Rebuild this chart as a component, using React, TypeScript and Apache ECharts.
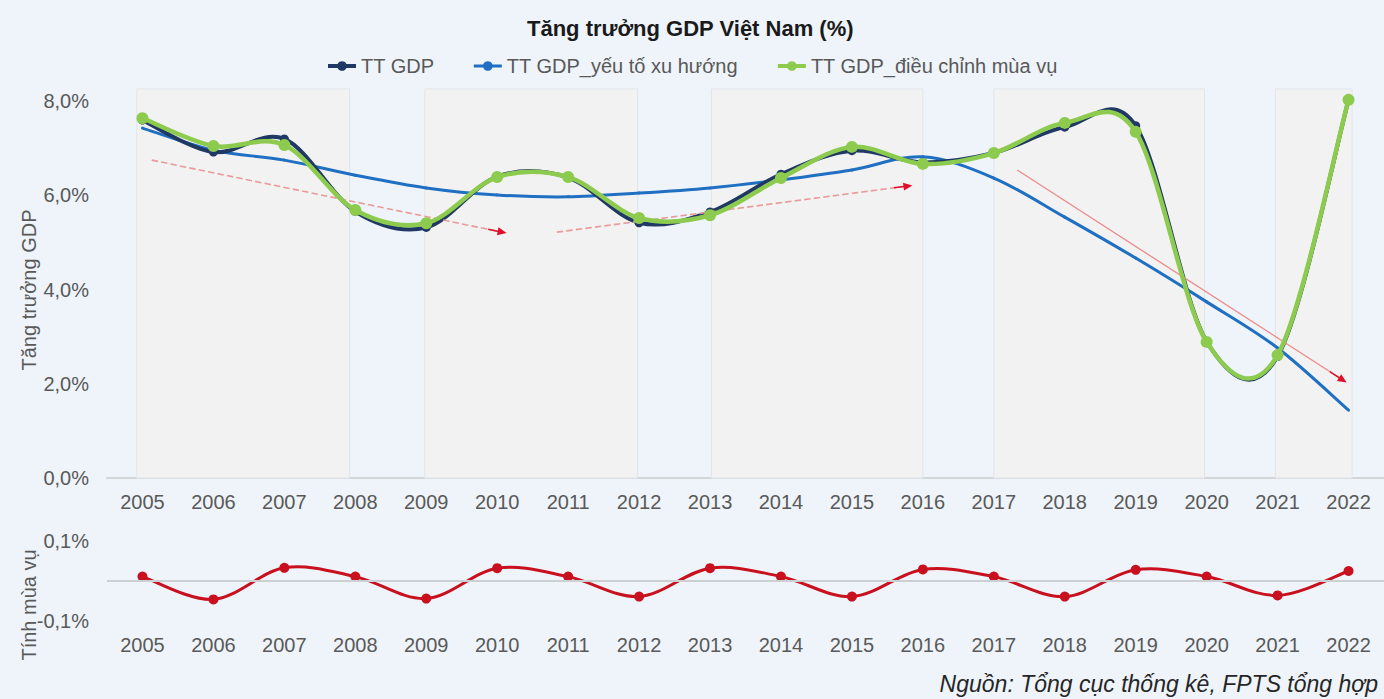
import React, { useEffect, useRef } from "react";
import * as echarts from "echarts";

const years = ["2005","2006","2007","2008","2009","2010","2011","2012","2013","2014","2015","2016","2017","2018","2019","2020","2021","2022"];
const ttGdp = [7.6, 6.92, 7.2, 5.66, 5.32, 6.4, 6.38, 5.42, 5.65, 6.45, 6.95, 6.7, 6.9, 7.45, 7.48, 2.9, 2.58, 8.02];
const ttGdpTrend = [7.43, 6.96, 6.75, 6.43, 6.16, 6.01, 5.97, 6.05, 6.16, 6.33, 6.54, 6.82, 6.37, 5.54, 4.67, 3.74, 2.76, 1.44];
const ttGdpSeasAdj = [7.64, 7.05, 7.07, 5.69, 5.41, 6.39, 6.39, 5.52, 5.58, 6.37, 7.03, 6.67, 6.9, 7.54, 7.35, 2.89, 2.61, 8.03];
const seasonality = [0.011, -0.046, 0.033, 0.011, -0.044, 0.032, 0.011, -0.039, 0.032, 0.011, -0.039, 0.029, 0.011, -0.039, 0.028, 0.011, -0.036, 0.025];
// shaded periods, in category-index units (0 = 2005)
const shadedPeriods = [[-0.08, 2.92], [3.98, 6.98], [8.02, 11.0], [12.0, 14.97], [15.97, 17.05]];
// trend arrows: [fromIndex, fromValue, toIndex, toValue]
const trendArrows = [
  [0.13, 6.75, 5.07, 5.22],
  [5.84, 5.22, 10.79, 6.2],
  [12.33, 6.54, 16.92, 2.08],
];

const FONT = "'Liberation Sans', Arial, sans-serif";
const LABEL = "#595959";
const C_GDP = "#1f3864";
const C_TREND = "#1f6fc2";
const C_SA = "#8ccb4e";
const C_SEAS = "#c8101e";

// Excel-like smoothed line (cubic Bezier, control points at 1/6 of neighbour span), drawn through the axis scales
function smoothCurve(name: string, values: number[], color: string, width: number, z: number, xAxisIndex: number, yAxisIndex: number) {
  const n = values.length;
  return {
    name, type: "custom", xAxisIndex, yAxisIndex, z, silent: true,
    data: values.map((v, i) => [i, v]),
    encode: { x: 0, y: 1 },
    renderItem: (params: any, api: any) => {
      const i = params.dataIndex;
      if (i >= n - 1) return null;
      const p = (k: number) => {
        const c = Math.max(0, Math.min(n - 1, k));
        return api.coord([c, values[c]]);
      };
      const p0 = p(i - 1), p1 = p(i), p2 = p(i + 1), p3 = p(i + 2);
      return {
        type: "bezierCurve",
        shape: {
          x1: p1[0], y1: p1[1], x2: p2[0], y2: p2[1],
          cpx1: p1[0] + (p2[0] - p0[0]) / 6, cpy1: p1[1] + (p2[1] - p0[1]) / 6,
          cpx2: p2[0] - (p3[0] - p1[0]) / 6, cpy2: p2[1] - (p3[1] - p1[1]) / 6,
        },
        style: { stroke: color, lineWidth: width, fill: null, lineCap: "round" },
      };
    },
  };
}

export default function App() {
  const ref = useRef<HTMLDivElement>(null);
  useEffect(() => {
    if (!ref.current) return;
    const chart = echarts.init(ref.current, null, { renderer: "svg" });
    const fmtTop = (v: number) =>
      Math.abs(v - Math.round(v / 2) * 2) < 1e-6 ? v.toFixed(1).replace(".", ",") + "%" : "";
    const fmtBot = (v: number) =>
      Math.abs(v) < 1e-9 ? "" : v.toFixed(1).replace(".", ",") + "%";

    const arrowLines: any[] = [];
    trendArrows.forEach(([x1, y1, x2, y2], i) => {
      const dashed = i < 2;
      arrowLines.push([
        { coord: [x1, y1], symbol: "none", lineStyle: { color: dashed ? "#eb9a9a" : "#ec8a8a", width: dashed ? 1.6 : 1.3, type: dashed ? "dashed" : "solid" } },
        { coord: [x2, y2], symbol: "none" },
      ]);
      const f = 0.04;
      arrowLines.push([
        { coord: [x2 - (x2 - x1) * f, y2 - (y2 - y1) * f], symbol: "none", lineStyle: { color: "#e0102a", width: 1.5, type: "solid" } },
        { coord: [x2, y2], symbol: "triangle", symbolSize: [8, 9] },
      ]);
    });

    const markerLine = (name: string, values: number[], color: string, size: number, z: number, xi: number, yi: number, extra: any = {}) => ({
      name, type: "line", xAxisIndex: xi, yAxisIndex: yi, data: values,
      symbol: size > 0 ? "circle" : "none", symbolSize: size, z,
      itemStyle: { color }, lineStyle: { color, width: 0, opacity: 0 },
      ...extra,
    });

    chart.setOption({
      animation: false,
      backgroundColor: "#eef4fa",
      textStyle: { fontFamily: FONT },
      title: {
        text: "Tăng trưởng GDP Việt Nam (%)",
        left: 522,
        top: 12,
        textStyle: { fontSize: 22, fontWeight: "bold", color: "#1a1a1a", fontFamily: FONT },
      },
      legend: {
        top: 51,
        left: 321,
        itemWidth: 28,
        itemHeight: 12,
        itemGap: 38,
        textStyle: { fontSize: 20, color: LABEL, fontFamily: FONT },
        data: [
          { name: "TT GDP", lineStyle: { color: C_GDP, width: 4, opacity: 1 } },
          { name: "TT GDP_yếu tố xu hướng", lineStyle: { color: C_TREND, width: 3, opacity: 1 } },
          { name: "TT GDP_điều chỉnh mùa vụ", lineStyle: { color: C_SA, width: 4, opacity: 1 } },
        ],
      },
      grid: [
        { left: 107, right: 0, top: 89, height: 389 },
        { left: 107, right: 0, top: 541, height: 80 },
      ],
      xAxis: [
        {
          type: "category", gridIndex: 0, data: years, boundaryGap: true,
          axisLine: { lineStyle: { color: "#d3d6d9", width: 2 } },
          axisTick: { show: false },
          axisLabel: { fontSize: 20, color: LABEL, margin: 14, fontFamily: FONT },
        },
        { type: "value", gridIndex: 0, min: -0.5, max: 17.5, show: false },
        {
          type: "category", gridIndex: 1, data: years, boundaryGap: true,
          axisLine: { show: false }, axisTick: { show: false },
          axisLabel: { fontSize: 20, color: LABEL, margin: 14, fontFamily: FONT },
        },
      ],
      yAxis: [
        {
          type: "value", gridIndex: 0, min: 0, max: 8.26, interval: 2,
          splitLine: { show: false }, axisLine: { show: false }, axisTick: { show: false },
          axisLabel: { formatter: fmtTop, fontSize: 20, color: LABEL, margin: 18, fontFamily: FONT },
        },
        {
          type: "value", gridIndex: 1, min: -0.1, max: 0.1, interval: 0.1,
          splitLine: { show: false }, axisLine: { show: false }, axisTick: { show: false },
          axisLabel: { formatter: fmtBot, fontSize: 20, color: LABEL, margin: 18, fontFamily: FONT },
        },
      ],
      series: [
        {
          name: "bands", type: "line", xAxisIndex: 1, yAxisIndex: 0, data: [], z: 1, silent: true,
          markArea: {
            silent: true,
            itemStyle: { color: "#f2f2f2", borderColor: "#e2e5e8", borderWidth: 1 },
            data: shadedPeriods.map(([a, b]) => [{ xAxis: a }, { xAxis: b }]),
          },
        },
        smoothCurve("trendCurve", ttGdpTrend, C_TREND, 3, 3, 0, 0),
        smoothCurve("gdpCurve", ttGdp, C_GDP, 4, 4, 0, 0),
        smoothCurve("saCurve", ttGdpSeasAdj, C_SA, 4.5, 5, 0, 0),
        markerLine("TT GDP_yếu tố xu hướng", ttGdpTrend, C_TREND, 0, 3, 0, 0),
        markerLine("TT GDP", ttGdp, C_GDP, 9, 4, 0, 0),
        markerLine("TT GDP_điều chỉnh mùa vụ", ttGdpSeasAdj, C_SA, 12, 5, 0, 0),
        {
          name: "arrows", type: "line", xAxisIndex: 1, yAxisIndex: 0, data: [], z: 6, silent: true,
          markLine: { silent: true, animation: false, label: { show: false }, symbol: ["none", "none"], data: arrowLines },
        },
        smoothCurve("seasCurve", seasonality, C_SEAS, 3, 4, 2, 1),
        markerLine("Tính mùa vụ", seasonality, C_SEAS, 10, 4, 2, 1, {
          markLine: {
            silent: true, symbol: ["none", "none"], label: { show: false },
            lineStyle: { color: "#cdd0d3", width: 2, type: "solid" },
            data: [{ yAxis: 0 }],
          },
        }),
      ],
      graphic: [
        {
          type: "text", x: 29, y: 290, rotation: Math.PI / 2,
          style: { text: "Tăng trưởng GDP", fontSize: 20, fill: LABEL, align: "center", verticalAlign: "middle", fontFamily: FONT },
        },
        {
          type: "text", x: 29, y: 605, rotation: Math.PI / 2,
          style: { text: "Tính mùa vụ", fontSize: 20, fill: LABEL, align: "center", verticalAlign: "middle", fontFamily: FONT },
        },
        {
          type: "text", right: 6, top: 672,
          style: { text: "Nguồn: Tổng cục thống kê, FPTS tổng hợp", fontSize: 23, fontStyle: "italic", fill: "#262626", fontFamily: FONT },
        },
      ],
    });
    return () => chart.dispose();
  }, []);
  return <div ref={ref} style={{ position: "fixed", left: 0, top: 0, width: 1384, height: 699 }} />;
}
